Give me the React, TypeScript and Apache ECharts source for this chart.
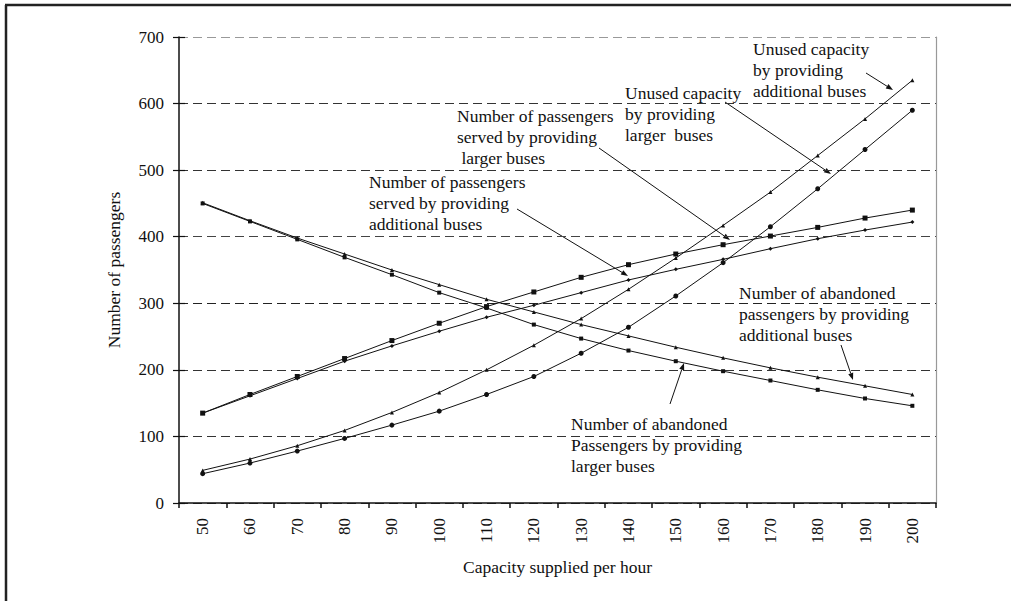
import React, { useEffect, useRef } from 'react';
import * as echarts from 'echarts';

const capacity = ['50', '60', '70', '80', '90', '100', '110', '120', '130', '140', '150', '160', '170', '180', '190', '200'];
const yTicks = { min: 0, max: 700, interval: 100 };

const servedAdditional = [135, 161, 187, 213, 236, 258, 279, 297, 316, 335, 351, 366, 382, 397, 410, 422];
const servedLarger = [135, 163, 190, 217, 244, 270, 295, 317, 339, 358, 374, 388, 401, 414, 428, 440];
const abandonedAdditional = [451, 424, 398, 374, 350, 328, 306, 287, 268, 251, 234, 218, 203, 189, 176, 163];
const abandonedLarger = [450, 423, 396, 369, 343, 316, 293, 268, 247, 229, 213, 198, 184, 170, 157, 146];
const unusedAdditional = [49, 66, 86, 109, 136, 166, 200, 237, 277, 321, 368, 417, 467, 522, 577, 635];
const unusedLarger = [44, 60, 78, 97, 117, 138, 163, 190, 225, 264, 311, 361, 415, 472, 531, 590];

const FONT = '"Liberation Serif", "Times New Roman", serif';

type Note = { text: string; x: number; y: number; from: [number, number]; to: [number, number] };
const notes: Note[] = [
  { text: 'Unused capacity\nby providing\nadditional buses', x: 753, y: 38, from: [866, 73], to: [893, 90] },
  { text: 'Unused capacity\nby providing\nlarger  buses', x: 625, y: 82, from: [725, 102], to: [831, 174] },
  { text: 'Number of passengers\nserved by providing\n larger buses', x: 457, y: 105, from: [599, 148], to: [730, 240] },
  { text: 'Number of passengers\nserved by providing\nadditional buses', x: 369, y: 171, from: [517, 209], to: [628, 276] },
  { text: 'Number of abandoned\npassengers by providing\nadditional buses', x: 739, y: 282, from: [841, 345], to: [853, 380] },
  { text: 'Number of abandoned\nPassengers by providing\nlarger buses', x: 571, y: 413, from: [670, 404], to: [684, 363] },
];

function arrowElements(from: [number, number], to: [number, number]) {
  const [x1, y1] = from;
  const [x2, y2] = to;
  const dx = x2 - x1;
  const dy = y2 - y1;
  const len = Math.sqrt(dx * dx + dy * dy);
  const ux = dx / len;
  const uy = dy / len;
  const hl = 7;
  const hw = 2.6;
  const bx = x2 - ux * hl;
  const by = y2 - uy * hl;
  return [
    {
      type: 'line',
      shape: { x1, y1, x2: bx, y2: by },
      style: { stroke: '#111', lineWidth: 1 },
      silent: true,
    },
    {
      type: 'polygon',
      shape: {
        points: [
          [x2, y2],
          [bx - uy * hw, by + ux * hw],
          [bx + uy * hw, by - ux * hw],
        ],
      },
      style: { fill: '#111' },
      silent: true,
    },
  ];
}

export default function App() {
  const ref = useRef<HTMLDivElement>(null);

  useEffect(() => {
    const chart = echarts.init(ref.current!, null, { renderer: 'svg' });

    const mkSeries = (name: string, data: number[], symbol: string, size: number) => ({
      name,
      type: 'line',
      data,
      symbol,
      symbolSize: size,
      showSymbol: true,
      lineStyle: { color: '#111', width: 1 },
      itemStyle: { color: '#111' },
      emphasis: { disabled: true },
    });

    const graphics: any[] = [
      { type: 'line', shape: { x1: 5, y1: 5, x2: 1011, y2: 5 }, style: { stroke: '#222', lineWidth: 2.5 }, silent: true },
      { type: 'line', shape: { x1: 6, y1: 5, x2: 6, y2: 601 }, style: { stroke: '#222', lineWidth: 2.5 }, silent: true },
    ];
    notes.forEach((n) => {
      graphics.push({
        type: 'text',
        x: n.x,
        y: n.y,
        style: {
          text: n.text,
          fontFamily: FONT,
          fontSize: 17.5,
          lineHeight: 21,
          fill: '#111',
          verticalAlign: 'top',
        },
        silent: true,
      });
      graphics.push(...arrowElements(n.from, n.to));
    });

    const option: any = {
      animation: false,
      backgroundColor: '#fff',
      grid: { left: 179, right: 75, top: 37, bottom: 98, containLabel: false },
      xAxis: {
        type: 'category',
        data: capacity,
        boundaryGap: true,
        name: 'Capacity supplied per hour',
        nameLocation: 'middle',
        nameGap: 55,
        nameTextStyle: { fontFamily: FONT, fontSize: 17.5, color: '#111' },
        axisLine: { lineStyle: { color: '#111', width: 1.5 } },
        axisTick: { show: true, interval: 0, length: 5, lineStyle: { color: '#111', width: 1.5 } },
        axisLabel: { rotate: 90, interval: 0, margin: 15, fontFamily: FONT, fontSize: 17, color: '#111' },
        splitLine: { show: false },
      },
      yAxis: [
        {
          type: 'value',
          ...yTicks,
          position: 'left',
          name: 'Number of passengers',
          nameLocation: 'middle',
          nameGap: 56,
          nameTextStyle: { fontFamily: FONT, fontSize: 17.5, color: '#111' },
          axisLine: { show: true, lineStyle: { color: '#111', width: 1.5 } },
          axisTick: { show: true, length: 6, lineStyle: { color: '#111', width: 1.2 } },
          axisLabel: { margin: 15, fontFamily: FONT, fontSize: 17, color: '#111' },
          splitLine: {
            show: true,
            lineStyle: { type: [9, 5], width: 1.2, color: ['#333', '#333', '#333', '#222', '#444', '#333', '#333', '#999'] },
          },
        },
        {
          type: 'value',
          ...yTicks,
          position: 'left',
          axisLine: { show: false },
          axisTick: { show: true, inside: true, length: 6, lineStyle: { color: '#111', width: 1.2 } },
          axisLabel: { show: false },
          splitLine: { show: false },
        },
        {
          type: 'value',
          ...yTicks,
          position: 'right',
          axisLine: { show: true, lineStyle: { color: '#999', width: 1.2 } },
          axisTick: { show: false },
          axisLabel: { show: false },
          splitLine: { show: false },
        },
      ],
      series: [
        mkSeries('Number of passengers served by providing additional buses', servedAdditional, 'diamond', 4),
        mkSeries('Number of passengers served by providing larger buses', servedLarger, 'rect', 5),
        mkSeries('Number of abandoned passengers by providing additional buses', abandonedAdditional, 'triangle', 4),
        mkSeries('Number of abandoned passengers by providing larger buses', abandonedLarger, 'rect', 4),
        mkSeries('Unused capacity by providing additional buses', unusedAdditional, 'triangle', 4),
        mkSeries('Unused capacity by providing larger buses', unusedLarger, 'circle', 5),
      ],
      graphic: graphics,
    };

    chart.setOption(option);
    return () => chart.dispose();
  }, []);

  return (
    <div
      ref={ref}
      style={{ position: 'fixed', left: 0, top: 0, width: 1011, height: 601, background: '#fff' }}
    />
  );
}
